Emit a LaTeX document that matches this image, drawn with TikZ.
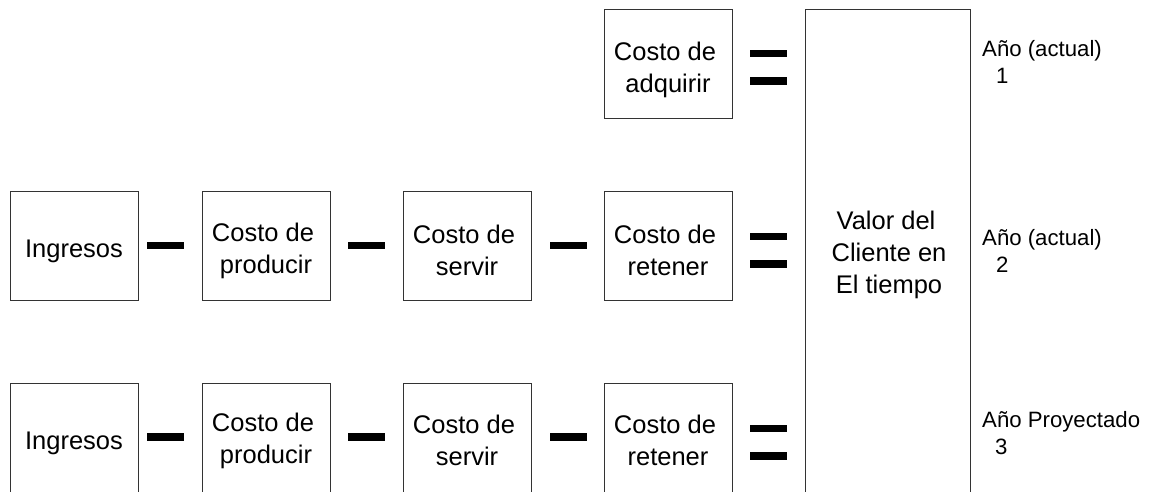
\documentclass[tikz,border=0pt]{standalone}
\usepackage{fontspec}
\setmainfont{Liberation Sans}
\definecolor{boxline}{HTML}{333333}
\newcommand{\costo}{Costo de\hspace*{6pt}}
\tikzset{
  x=1pt,y=-1pt,
  box/.style={draw=boxline,line width=1pt,fill=white,anchor=north west,minimum width=128pt,minimum height=109pt,inner sep=0pt},
  cutbox/.style={box,minimum height=140pt},
  tallbox/.style={box,minimum width=165pt,minimum height=560pt},
  boxtext/.style={align=center,inner sep=0pt,font=\fontsize{25.5}{32}\selectfont},
  bar/.style={fill=black,draw=none,anchor=center,minimum width=37pt,minimum height=7.5pt,inner sep=0pt},
  yearlabel/.style={anchor=north west,inner sep=0pt,align=left,font=\fontsize{22.2}{27.5}\selectfont}
}
\begin{document}
\begin{tikzpicture}
\useasboundingbox (0,0) rectangle (1149,491);
\clip (0,0) rectangle (1149,491);
% top row
\node[box] (adq) at (604,8.5) {};
\node[boxtext] (adqt) at (668,69.5) {\costo\\adquirir};
\node[bar] (e1a) at (768.5,53.5) {};
\node[bar] (e1b) at (768.5,81) {};
% big box
\node[tallbox] (vc) at (805,8.5) {};
\node[boxtext] (vct) at (889,254.5) {Valor del\hspace*{6pt}\\Cliente en\\El tiempo};
% row 2
\node[box] (i2) at (10,191) {};
\node[box] (p2) at (202,191) {};
\node[box] (s2) at (403,191) {};
\node[box] (r2) at (604,191) {};
\node[boxtext] (i2t) at (74,251.5) {Ingresos};
\node[boxtext] (p2t) at (266,250.5) {\costo\\producir};
\node[boxtext] (s2t) at (467,250.5) {\costo\\servir};
\node[boxtext] (r2t) at (668,250.5) {\costo\\retener};
\node[bar] (m2a) at (165.5,245.5) {};
\node[bar] (m2b) at (366.5,245.5) {};
\node[bar] (m2c) at (568.5,245.5) {};
\node[bar] (e2a) at (768.5,236.5) {};
\node[bar] (e2b) at (768.5,264) {};
% row 3
\node[cutbox] (i3) at (10,383) {};
\node[cutbox] (p3) at (202,383) {};
\node[cutbox] (s3) at (403,383) {};
\node[cutbox] (r3) at (604,383) {};
\node[boxtext] (i3t) at (74,443) {Ingresos};
\node[boxtext] (p3t) at (266,440.5) {\costo\\producir};
\node[boxtext] (s3t) at (467,440.5) {\costo\\servir};
\node[boxtext] (r3t) at (668,440.5) {\costo\\retener};
\node[bar] (m3a) at (165.5,437) {};
\node[bar] (m3b) at (366.5,437) {};
\node[bar] (m3c) at (568.5,437) {};
\node[bar] (e3a) at (768.5,428.5) {};
\node[bar] (e3b) at (768.5,456) {};
% labels
\node[yearlabel] (y1) at (982,40) {Año (actual)\\\hspace*{14pt}1};
\node[yearlabel] (y2) at (982,229) {Año (actual)\\\hspace*{14pt}2};
\node[yearlabel] (y3) at (982,411) {Año Proyectado\\\hspace*{13pt}3};
\end{tikzpicture}
\end{document}
